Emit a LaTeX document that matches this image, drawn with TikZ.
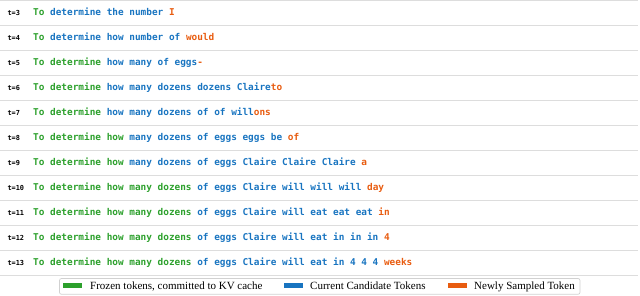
\documentclass[tikz,border=0pt]{standalone}
\usepackage{fontspec}
\setmainfont{Liberation Serif}
\newfontfamily\tokfont{DejaVu Sans Mono}
\definecolor{frz}{RGB}{44,160,44}
\definecolor{cand}{RGB}{24,116,192}
\definecolor{newt}{RGB}{232,92,16}
\definecolor{sepc}{RGB}{221,221,221}
\newcommand{\Fz}[1]{\textcolor{frz}{#1}}
\newcommand{\Cd}[1]{\textcolor{cand}{#1}}
\newcommand{\Nw}[1]{\textcolor{newt}{#1}}
\begin{document}
\begin{tikzpicture}[x=1pt,y=-1pt,
  tok/.style={anchor=base west, inner sep=0pt, font=\tokfont\bfseries\fontsize{9.4}{11}\selectfont},
  tlab/.style={anchor=base west, inner sep=0pt, font=\tokfont\bfseries\fontsize{6.9}{8}\selectfont},
  sepline/.style={draw=sepc, line width=0.9pt},
  legbox/.style={draw=black!18, fill=white, rounded corners=2pt, line width=0.7pt},
  patch/.style={minimum width=19pt, minimum height=4.8pt, inner sep=0pt, draw=none},
  legtxt/.style={anchor=base west, inner sep=0pt, font=\fontsize{11}{13}\selectfont}]
\useasboundingbox (0,0) rectangle (640,295);
% separators
\foreach \k in {0,...,11} {\draw[sepline] (0,{0.5+25*\k}) -- (638,{0.5+25*\k});}
% labels
\node[tlab] (l3)  at (7.3,15)  {t=3};
\node[tlab] (l4)  at (7.3,40)  {t=4};
\node[tlab] (l5)  at (7.3,65)  {t=5};
\node[tlab] (l6)  at (7.3,90)  {t=6};
\node[tlab] (l7)  at (7.3,115) {t=7};
\node[tlab] (l8)  at (7.3,140) {t=8};
\node[tlab] (l9)  at (7.3,165) {t=9};
\node[tlab] (l10) at (7.3,190) {t=10};
\node[tlab] (l11) at (7.3,215) {t=11};
\node[tlab] (l12) at (7.3,240) {t=12};
\node[tlab] (l13) at (7.3,265) {t=13};
% rows
\node[tok] (r3)  at (33,15.5)  {\Fz{To} \Cd{determine the number} \Nw{I}};
\node[tok] (r4)  at (33,40.5)  {\Fz{To} \Cd{determine how number of} \Nw{would}};
\node[tok] (r5)  at (33,65.5)  {\Fz{To determine} \Cd{how many of eggs}\Nw{-}};
\node[tok] (r6)  at (33,90.5)  {\Fz{To determine} \Cd{how many dozens dozens Claire}\Nw{to}};
\node[tok] (r7)  at (33,115.5) {\Fz{To determine} \Cd{how many dozens of of will}\Nw{ons}};
\node[tok] (r8)  at (33,140.5) {\Fz{To determine how} \Cd{many dozens of eggs eggs be} \Nw{of}};
\node[tok] (r9)  at (33,165.5) {\Fz{To determine how} \Cd{many dozens of eggs Claire Claire Claire} \Nw{a}};
\node[tok] (r10) at (33,190.5) {\Fz{To determine how many dozens} \Cd{of eggs Claire will will will} \Nw{day}};
\node[tok] (r11) at (33,215.5) {\Fz{To determine how many dozens} \Cd{of eggs Claire will eat eat eat} \Nw{in}};
\node[tok] (r12) at (33,240.5) {\Fz{To determine how many dozens} \Cd{of eggs Claire will eat in in in} \Nw{4}};
\node[tok] (r13) at (33,265.5) {\Fz{To determine how many dozens} \Cd{of eggs Claire will eat in 4 4 4} \Nw{weeks}};
% legend
\draw[legbox] (59.5,278.5) rectangle (580,294.3);
\node[patch, fill=frz]  (pf) at (72.5,285.2) {};
\node[legtxt] (tf) at (90,289) {Frozen tokens, committed to KV cache};
\node[patch, fill=cand] (pc) at (293.5,285.2) {};
\node[legtxt] (tc) at (310,289) {Current Candidate Tokens};
\node[patch, fill=newt] (pn) at (457.5,285.2) {};
\node[legtxt] (tn) at (474,289) {Newly Sampled Token};
\end{tikzpicture}
\end{document}
